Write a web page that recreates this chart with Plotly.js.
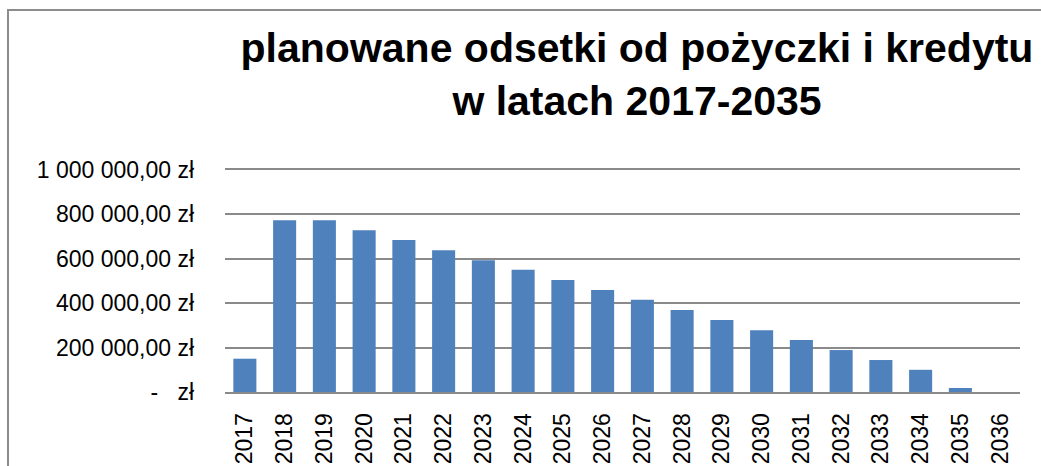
<!DOCTYPE html>
<html>
<head>
<meta charset="utf-8">
<script src="https://cdn.plot.ly/plotly-3.0.1.min.js"></script>
<style>
  html, body { margin: 0; padding: 0; background: #fff; }
  #chart { width: 1041px; height: 466px; }
</style>
</head>
<body>
<div id="chart"></div>
<script>
// Data
const years = ["2017","2018","2019","2020","2021","2022","2023","2024","2025","2026",
               "2027","2028","2029","2030","2031","2032","2033","2034","2035","2036"];
const interest = [150000, 774000, 774000, 729000, 685000, 639000, 594000, 551000, 505000, 460000,
                  415000, 369000, 324000, 278000, 234000, 189000, 144000, 100000, 18000, 0];
const yTickVals = [0, 200000, 400000, 600000, 800000, 1000000];
const yTickText = ["-\u00a0\u00a0\u00a0zł", "200 000,00 zł", "400 000,00 zł", "600 000,00 zł", "800 000,00 zł", "1 000 000,00 zł"];
const titleText = "planowane odsetki od pożyczki i kredytu<br>w latach 2017-2035";

// Layout geometry (pixels)
const W = 1041, H = 466;
const yMax = 1000000;
const M = { l: 225, r: 21, t: 170, b: 74 };
const gridColor = "#8a8a8a";

const trace = {
  type: "bar",
  x: years,
  y: interest,
  marker: { color: "#4F81BD", line: { width: 0 } },
  hoverinfo: "x+y"
};

const layout = {
  width: W, height: H,
  margin: M,
  paper_bgcolor: "#fff",
  plot_bgcolor: "#fff",
  showlegend: false,
  bargap: 0.42,
  font: { family: "Liberation Sans, Arial, sans-serif", color: "#000" },
  title: {
    text: titleText,
    font: { family: "Liberation Sans, Arial, sans-serif", size: 41, color: "#000", weight: "bold" },
    x: 637 / W, xref: "container", xanchor: "center",
    y: 1 - 62 / H, yref: "container", yanchor: "top"
  },
  xaxis: {
    type: "category",
    tickangle: -90,
    tickfont: { size: 23, color: "#000" },
    showgrid: false,
    showline: true,
    mirror: true,            // top edge line = 1 000 000 gridline (range top)
    linecolor: gridColor,
    linewidth: 2,
    ticks: "",
    ticklabelstandoff: 10,
    fixedrange: true
  },
  yaxis: {
    range: [0, yMax],
    tickmode: "array",
    tickvals: yTickVals,
    ticktext: yTickText,
    tickfont: { size: 23, color: "#000" },
    showgrid: true,
    gridcolor: gridColor,
    gridwidth: 2,
    zeroline: false,
    showline: false,
    ticks: "",
    ticklabelstandoff: 30,
    fixedrange: true
  }
};

Plotly.newPlot("chart", [trace], layout, { displayModeBar: false, staticPlot: true });

// Chart frame (decorative border, drawn in pixel space on the page)
const frame = document.createElement("div");
frame.style.cssText = "position:absolute;left:7px;top:9px;width:1100px;height:600px;border-left:2px solid #8c8c8c;border-top:2px solid #8c8c8c;pointer-events:none;";
document.body.appendChild(frame);
</script>
</body>
</html>
